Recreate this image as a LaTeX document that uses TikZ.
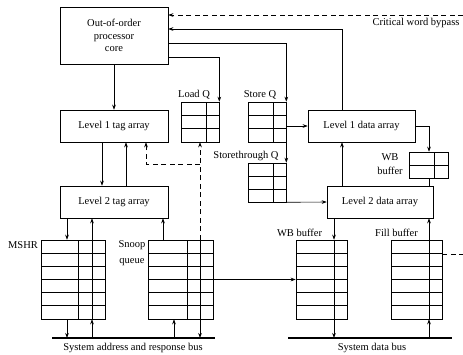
\documentclass[tikz,border=0pt]{standalone}
\usepackage{fontspec}
\setmainfont{Liberation Serif}
\usetikzlibrary{arrows.meta, positioning, calc}
\tikzstyle{unit}   = [rectangle, draw=black, line width=0.6pt, align=center, inner sep=0pt, minimum height=32pt]
\tikzstyle{arrow}  = [line width=0.6pt, ->, >={Stealth[length=5pt,width=3.6pt]}]
\tikzstyle{dashline} = [line width=0.6pt, dash pattern=on 5pt off 3.5pt]
\tikzstyle{bus}    = [line width=1.3pt]
\tikzstyle{lbl}    = [inner sep=0pt, align=center]
% queue: rows, divider position as fraction of width
\tikzset{queue/.style 2 args={rectangle, draw=black, line width=0.6pt, inner sep=0pt,
    path picture={
      \foreach \r in {1,...,#1}
        \draw[line width=0.7pt] ($(path picture bounding box.north west)!{\r/#1}!(path picture bounding box.south west)$)
          -- ($(path picture bounding box.north east)!{\r/#1}!(path picture bounding box.south east)$);
      \draw[line width=0.6pt] ($(path picture bounding box.north west)!#2!(path picture bounding box.north east)$)
        -- ($(path picture bounding box.south west)!#2!(path picture bounding box.south east)$);
    }}}
\begin{document}
\begin{tikzpicture}[x=1pt, y=-1pt, font=\fontsize{10.5}{12.3}\selectfont]
    \useasboundingbox (0,0) rectangle (463,354);

    % processor side
    \node (core)   [unit, minimum width=108pt, minimum height=57pt] at (114,35.5) {Out-of-order\\processor\\core};
    \node (l1tag)  [unit, minimum width=108pt] at (114,126) {Level 1 tag array};
    \node (l2tag)  [unit, minimum width=108pt] at (114,202) {Level 2 tag array};
    \node (l1data) [unit, minimum width=107pt] at (361.5,126) {Level 1 data array};
    \node (l2data) [unit, minimum width=106pt] at (380,202) {Level 2 data array};

    % queues and buffers
    \node (loadq)  [queue={3}{0.66}, minimum width=38pt, minimum height=40pt] at (200,122) {};
    \node (storeq) [queue={3}{0.66}, minimum width=38pt, minimum height=40pt] at (267,122) {};
    \node (stthq)  [queue={3}{0.66}, minimum width=38pt, minimum height=39pt] at (267,182.5) {};
    \node (wbsm)   [queue={2}{0.64}, minimum width=39pt, minimum height=26pt] at (428.5,165) {};
    \node (mshr)   [queue={6}{0.59}, minimum width=64pt, minimum height=79pt] at (73,279.5) {};
    \node (snoop)  [queue={6}{0.6},  minimum width=65pt, minimum height=79pt] at (180.5,279.5) {};
    \node (wbbig)  [queue={6}{0.745}, minimum width=51pt, minimum height=79pt] at (321.5,279.5) {};
    \node (fill)   [queue={6}{0.745}, minimum width=51pt, minimum height=79pt] at (416.5,279.5) {};

    % buses
    \coordinate (abus-w) at (52,338);
    \coordinate (abus-e) at (215,338);
    \coordinate (dbus-w) at (288,338);
    \coordinate (dbus-e) at (452,338);
    \draw [bus] (abus-w) -- (abus-e);
    \draw [bus] (dbus-w) -- (dbus-e);
    \node (abuslbl) [lbl] at (133,348) {System address and response bus};
    \node (dbuslbl) [lbl] at (372,348) {System data bus};

    % labels
    \node (loadqlbl)  [lbl] at (194,95) {Load Q};
    \node (storeqlbl) [lbl] at (260,95) {Store Q};
    \node (stthqlbl)  [lbl] at (246,156) {Storethrough Q};
    \node (wbsmlbl)   [lbl, font=\fontsize{10.5}{14}\selectfont] at (390,164) {WB\\buffer};
    \node (mshrlbl)   [lbl] at (23,245) {MSHR};
    \node (snooplbl)  [lbl, font=\fontsize{10.5}{16}\selectfont] at (132,253) {Snoop\\queue};
    \node (wbbiglbl)  [lbl] at (299.5,233) {WB buffer};
    \node (filllbl)   [lbl] at (396.5,233) {Fill buffer};
    \node (cwblbl)    [lbl] at (416,23) {Critical word bypass};

    \coordinate (cwb) at (463,15);
    \coordinate (fillout) at (463,254);

    % core connections
    \draw [arrow] (core) -- (l1tag);
    \draw [arrow] ([yshift=-21.5pt]core.east) -| (loadq.north east);
    \draw [arrow] ([yshift=-7.5pt]core.east) -| (storeq.north east);
    \draw [arrow] (l1data.north -| 342,0) |- ([yshift=6.5pt]core.east);
    \draw [arrow, dashline] (cwb) -- (core.east |- cwb);

    % tag arrays
    \draw [arrow] (l1tag.south -| 102,0) -- (l2tag.north -| 102,0);
    \draw [arrow] (l2tag.north -| 126,0) -- (l1tag.south -| 126,0);
    \draw [arrow] (l2tag.south -| 67,0) -- (mshr.north -| 67,0);
    \draw [arrow] (mshr.south -| 67,0) -- (abus-w -| 67,0);
    \draw [arrow] (abus-w -| 92,0) -- (mshr.south -| 92,0);
    \draw [arrow] (mshr.south -| 92,0) -- (l2tag.south -| 92,0);
    \draw [arrow] (snoop.north -| 163,0) -- (l2tag.south -| 163,0);
    \draw [arrow] (abus-w -| 174,0) -- (snoop.south -| 174,0);
    \draw [arrow] (snoop.north -| 200,0) -- (abus-w -| 200,0);
    \draw [arrow, dashline] (snoop.north -| 200,0) -- (loadq.south);
    \draw [arrow, dashline] (200,164) -| (l1tag.south -| 146,0);
    \draw [arrow] (snoop.east) -- (wbbig.west);

    % data arrays
    \draw [arrow] (storeq.south east) -- (stthq.north east);
    \draw [arrow] (storeq.east |- l1data.west) -- (l1data.west);
    \draw [arrow] (stthq.south east) -- (l2data.west);
    \draw [arrow] (l2data.north -| 342,0) -- (l1data.south -| 342,0);
    \draw [arrow] (l1data.east) -| (wbsm.north -| 429,0);
    \draw [line width=0.6pt] (wbsm.south -| 429,0) -- (l2data.north -| 429,0);
    \draw [arrow] (l2data.south -| 334,0) -- (wbbig.north -| 334,0);
    \draw [arrow] (wbbig.north -| 334,0) -- (dbus-w -| 334,0);
    \draw [arrow] (dbus-w -| 429,0) -- (fill.south -| 429,0);
    \draw [arrow] (fill.south -| 429,0) -- (l2data.south -| 429,0);
    \draw [dashline] (fill.east |- fillout) -- (fillout);
\end{tikzpicture}
\end{document}
